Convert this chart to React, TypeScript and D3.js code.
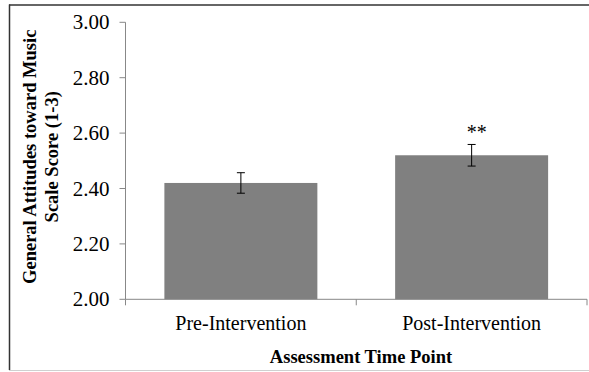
import * as d3 from "d3";

const categories = ["Pre-Intervention", "Post-Intervention"];
const means = [2.42, 2.52];
const errors = [0.037, 0.039];
const sigMarks = ["", "**"];
const yTicks = [2.0, 2.2, 2.4, 2.6, 2.8, 3.0];

const W = 589;
const H = 372;
const FONT = "'Liberation Serif', 'Times New Roman', serif";
const AXIS = "#888888";

const App = () => {
  const x = d3.scaleBand().domain(categories).range([125.5, 587]).padding(0);
  const y = d3.scaleLinear().domain([2, 3]).range([299.3, 22.3]);
  const barW = x.bandwidth() * 0.663;
  const fmt = d3.format(".2f");
  const x0 = 125.5;
  const y0 = y(2);

  return (
    <svg
      width={W}
      height={H}
      style={{ position: "absolute", left: 0, top: 0, background: "#fff" }}
      fontFamily={FONT}
    >
      {/* frame */}
      <line x1={9} x2={W} y1={5} y2={5} stroke="#333" strokeWidth={1.5} />
      <line x1={9.5} x2={9.5} y1={4.5} y2={370} stroke="#333" strokeWidth={1.5} />
      <line x1={9} x2={W} y1={370.5} y2={370.5} stroke="#d0d0d0" strokeWidth={1} />

      {/* bars */}
      {categories.map((c, i) => {
        const cx = (x(c) as number) + x.bandwidth() / 2;
        return (
          <rect
            key={c}
            x={cx - barW / 2}
            y={y(means[i])}
            width={barW}
            height={y0 - y(means[i])}
            fill="#808080"
          />
        );
      })}

      {/* y axis */}
      <line x1={x0} x2={x0} y1={y(3)} y2={y0} stroke={AXIS} strokeWidth={1} />
      {yTicks.map((t) => (
        <g key={t} transform={`translate(0,${y(t)})`}>
          <line x1={x0 - 6} x2={x0} stroke={AXIS} strokeWidth={1} />
          <text x={109.5} dy="0.34em" textAnchor="end" fontSize={21} fill="#000">
            {fmt(t)}
          </text>
        </g>
      ))}

      {/* x axis */}
      <line x1={x0} x2={587} y1={y0} y2={y0} stroke={AXIS} strokeWidth={1} />
      {[...categories.map((c) => x(c) as number), 587].map((v, i) => (
        <line key={i} x1={v} x2={v} y1={y0} y2={y0 + 6} stroke={AXIS} strokeWidth={1} />
      ))}
      {categories.map((c) => (
        <text
          key={c}
          x={(x(c) as number) + x.bandwidth() / 2}
          y={330}
          textAnchor="middle"
          fontSize={20}
          fill="#000"
        >
          {c}
        </text>
      ))}

      {/* error bars */}
      {categories.map((c, i) => {
        const cx = (x(c) as number) + x.bandwidth() / 2;
        const top = y(means[i] + errors[i]);
        const bot = y(means[i] - errors[i]);
        return (
          <g key={c} stroke="#000" strokeWidth={1}>
            <line x1={cx} x2={cx} y1={top} y2={bot} />
            <line x1={cx - 4} x2={cx + 4} y1={top} y2={top} />
            <line x1={cx - 4} x2={cx + 4} y1={bot} y2={bot} />
          </g>
        );
      })}

      {/* significance */}
      {categories.map((c, i) =>
        sigMarks[i] ? (
          <text
            key={c}
            x={(x(c) as number) + x.bandwidth() / 2 + 5}
            y={y(means[i] + errors[i]) - 5}
            textAnchor="middle"
            fontSize={20}
            fill="#000"
          >
            {sigMarks[i]}
          </text>
        ) : null
      )}

      {/* axis titles */}
      <text
        x={361}
        y={363}
        textAnchor="middle"
        fontSize={18.5}
        fontWeight="bold"
        fill="#000"
      >
        Assessment Time Point
      </text>
      <text
        transform={`translate(36,${(y(3) + y0) / 2 - 4}) rotate(-90)`}
        textAnchor="middle"
        fontSize={18.5}
        fontWeight="bold"
        fill="#000"
      >
        General Attitudes toward Music
      </text>
      <text
        transform={`translate(58,${(y(3) + y0) / 2 - 4}) rotate(-90)`}
        textAnchor="middle"
        fontSize={18.5}
        fontWeight="bold"
        fill="#000"
      >
        Scale Score (1-3)
      </text>
    </svg>
  );
};

export default App;
